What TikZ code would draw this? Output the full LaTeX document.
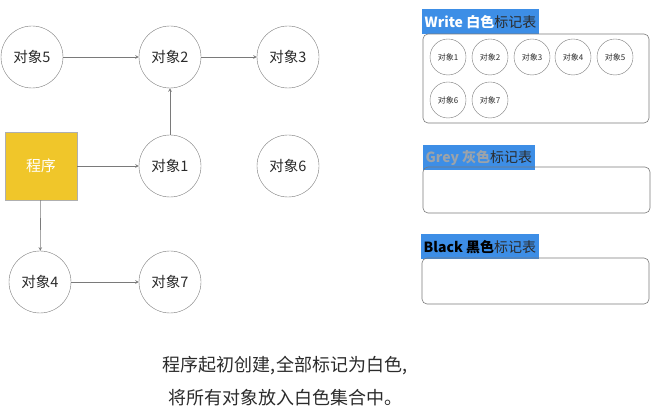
\documentclass[tikz,border=0pt]{standalone}
\usepackage{fontspec}
\setmainfont{Noto Sans CJK SC}
\usepackage{xcolor}
\usetikzlibrary{positioning}

\definecolor{progyellow}{HTML}{F0C62A}
\definecolor{tagblue}{HTML}{3D8EE6}
\definecolor{linegray}{HTML}{7A7A7A}
\definecolor{greytext}{HTML}{9CA3AA}
\definecolor{darktext}{HTML}{2B2B2B}

\begin{document}
\begin{tikzpicture}[>=stealth, x=1pt, y=-1pt,
    obj/.style={circle, draw=linegray, minimum size=62pt, inner sep=0pt,
        text=darktext, font=\fontsize{14.5}{16}\selectfont},
    mini/.style={circle, draw=linegray, minimum size=36pt, inner sep=0pt,
        text=darktext, font=\fontsize{8}{9}\selectfont},
    link/.style={->, draw=linegray, line width=0.6pt},
    tagbox/.style={fill=tagblue, anchor=north west, inner sep=2.5pt,
        minimum height=25pt, text=darktext, font=\fontsize{14}{16}\selectfont},
    markbox/.style={draw=linegray, line width=0.6pt, rounded corners=5pt}]

    \useasboundingbox (0,0) rectangle (654,411);

    % =================================================================
    % 1. OBJECT GRAPH
    % =================================================================
    \node[obj] (obj5) at (32, 57)  {对象5};
    \node[obj] (obj2) at (170, 57) {对象2};
    \node[obj] (obj3) at (288, 57) {对象3};
    \node[obj] (obj1) at (170, 166) {对象1};
    \node[obj] (obj6) at (288, 166) {对象6};
    \node[obj] (obj4) at (40, 282) {对象4};
    \node[obj] (obj7) at (170, 282) {对象7};

    % program root
    \node[fill=progyellow, draw=linegray!60, minimum width=72pt, minimum height=68pt,
        text=white, font=\fontsize{15}{17}\selectfont] (prog) at (41, 166) {程序};

    \draw[link] (obj5) -- (obj2);
    \draw[link] (obj2) -- (obj3);
    \draw[link] (obj1) -- (obj2);
    \draw[link] (prog) -- (obj1);
    \draw[link] (prog) -- (obj4);
    \draw[link] (obj4) -- (obj7);

    % =================================================================
    % 2. MARK TABLES
    % =================================================================
    \node[tagbox] (whitetag) at (422, 9)
        {\textcolor{white}{\bfseries Write 白色}标记表};
    \draw[markbox] (423, 34) rectangle (649, 123);
    \node[mini] (w1) at (448, 57)  {对象1};
    \node[mini] (w2) at (490, 57)  {对象2};
    \node[mini] (w3) at (532, 57)  {对象3};
    \node[mini] (w4) at (573, 57)  {对象4};
    \node[mini] (w5) at (615, 57)  {对象5};
    \node[mini] (w6) at (448, 100) {对象6};
    \node[mini] (w7) at (490, 100) {对象7};

    \node[tagbox] (greytag) at (423, 145)
        {\textcolor{greytext}{\bfseries Grey 灰色}标记表};
    \draw[markbox] (423, 167) rectangle (650, 213);

    \node[tagbox] (blacktag) at (421, 234)
        {\textcolor{black}{\bfseries Black 黑色}标记表};
    \draw[markbox] (422, 258) rectangle (649, 304);

    % =================================================================
    % 3. CAPTION
    % =================================================================
    \node[align=center, text=darktext, font=\fontsize{18}{33}\selectfont] (caption) at (285, 381)
        {程序起初创建,全部标记为白色,\\将所有对象放入白色集合中。};

\end{tikzpicture}
\end{document}
